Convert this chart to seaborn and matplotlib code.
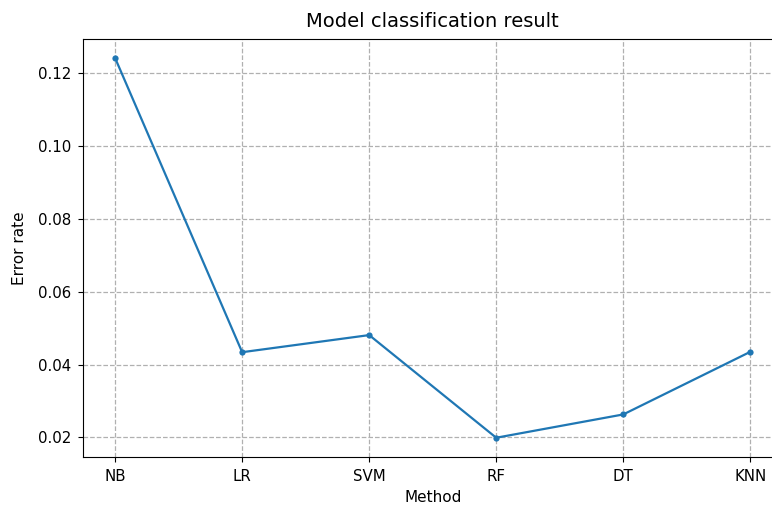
import pandas as pd
import matplotlib
matplotlib.use("Agg")
import matplotlib.pyplot as plt
import seaborn as sns

# Values
methods = ['NB', 'LR', 'SVM', 'RF', 'DT', 'KNN']
error_rate = [0.1242, 0.0434, 0.0481, 0.0199, 0.0263, 0.0435]

df = pd.DataFrame({'Method': methods, 'Error rate': error_rate})

fig = plt.figure(figsize=(7.72, 5.05), dpi=100)
ax = fig.add_axes([0.108, 0.0956, 0.905, 0.827])

sns.lineplot(data=df, x='Method', y='Error rate', marker='o', markersize=4.5,
             color='#1f77b4', linewidth=1.6, markeredgewidth=0, ax=ax)

ax.grid(True, linestyle='--', color='#b0b0b0', linewidth=0.9)
ax.tick_params(labelsize=10.8, pad=5)
ax.set_title('Model classification result', fontsize=14, pad=9)
ax.set_xlabel('Method', fontsize=11, labelpad=5)
ax.set_ylabel('Error rate', fontsize=11, labelpad=8)

fig.savefig('out.png', dpi=100)
